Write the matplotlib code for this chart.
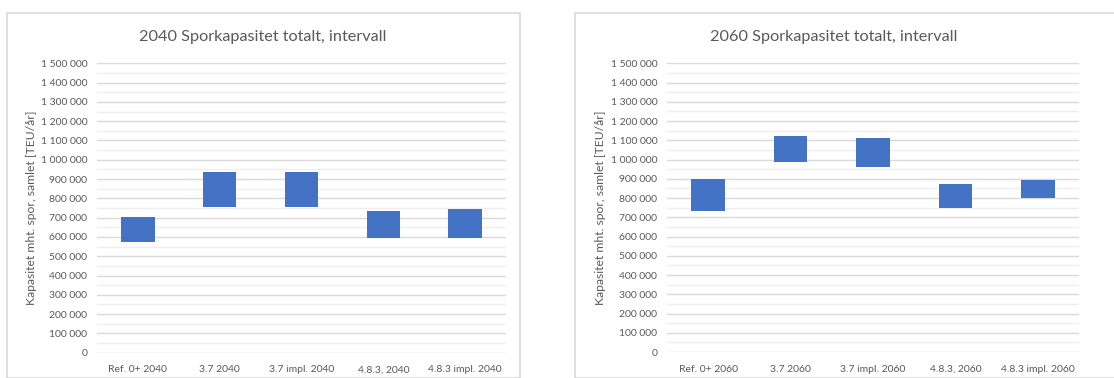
import matplotlib.pyplot as plt
from matplotlib.patches import Rectangle
from matplotlib.ticker import FuncFormatter, MultipleLocator

plt.rcParams["font.family"] = ["Lato", "DejaVu Sans"]

cats_2040 = ["Ref. 0+ 2040", "3.7 2040", "3.7 impl. 2040", "4.8.3, 2040", "4.8.3 impl. 2040"]
low_2040 = [572000, 754000, 754000, 596000, 596000]
high_2040 = [705000, 935000, 935000, 734000, 746000]

cats_2060 = ["Ref. 0+ 2060", "3.7 2060", "3.7 impl. 2060", "4.8.3, 2060", "4.8.3 impl. 2060"]
low_2060 = [733000, 989000, 961000, 748000, 798000]
high_2060 = [897000, 1124000, 1112000, 875000, 894000]

W, H = 1114, 378
BAR = "#4472C4"
TXT = "#595959"


def fmt(v, pos):
    return f"{int(v):,}".replace(",", " ")


def draw_panel(fig, px, title, cats, low, high, frame, title_x, ylab_x):
    # frame of the chart object
    fx0, fy0, fx1 = frame
    fig.patches.append(Rectangle((fx0 / W, 0), (fx1 - fx0) / W, 1 - fy0 / H,
                                 transform=fig.transFigure, fill=False,
                                 edgecolor="#d9d9d9", linewidth=1.2))
    x0, y0, x1, y1 = px
    ax = fig.add_axes([x0 / W, 1 - y1 / H, (x1 - x0) / W, (y1 - y0) / H])
    heights = [h - l for l, h in zip(low, high)]
    ax.bar(range(len(cats)), heights, bottom=low, width=0.41, color=BAR, zorder=3)
    ax.set_xlim(-0.5, len(cats) - 0.5)
    ax.set_ylim(0, 1500000)
    ax.yaxis.set_major_locator(MultipleLocator(100000))
    ax.yaxis.set_minor_locator(MultipleLocator(50000))
    ax.yaxis.set_major_formatter(FuncFormatter(fmt))
    ax.grid(axis="y", which="major", color="#d9d9d9", linewidth=1.0, zorder=0)
    ax.grid(axis="y", which="minor", color="#efefef", linewidth=1.0, zorder=0)
    ax.set_xticks(range(len(cats)))
    ax.set_xticklabels(cats)
    ax.tick_params(axis="both", which="both", length=0, labelsize=7.5, colors=TXT)
    ax.tick_params(axis="y", pad=7)
    ax.tick_params(axis="x", pad=9)
    for s in ax.spines.values():
        s.set_visible(False)
    fig.text(title_x / W, 1 - 37 / H, title, ha="center", va="center",
             fontsize=11.7, color=TXT)
    fig.text(ylab_x / W, 1 - 208 / H, "Kapasitet mht. spor, samlet [TEU/år]",
             rotation=90, ha="center", va="center", fontsize=8.7, color=TXT)
    return ax


fig = plt.figure(figsize=(W / 100, H / 100), dpi=100)
draw_panel(fig, (97, 63.3, 506, 352.7), "2040 Sporkapasitet totalt, intervall",
           cats_2040, low_2040, high_2040, (7, 13, 520), 263, 32)
draw_panel(fig, (667, 63.3, 1079, 352), "2060 Sporkapasitet totalt, intervall",
           cats_2060, low_2060, high_2060, (575, 13, 1125), 834, 600)

fig.savefig("out.png", dpi=100)
